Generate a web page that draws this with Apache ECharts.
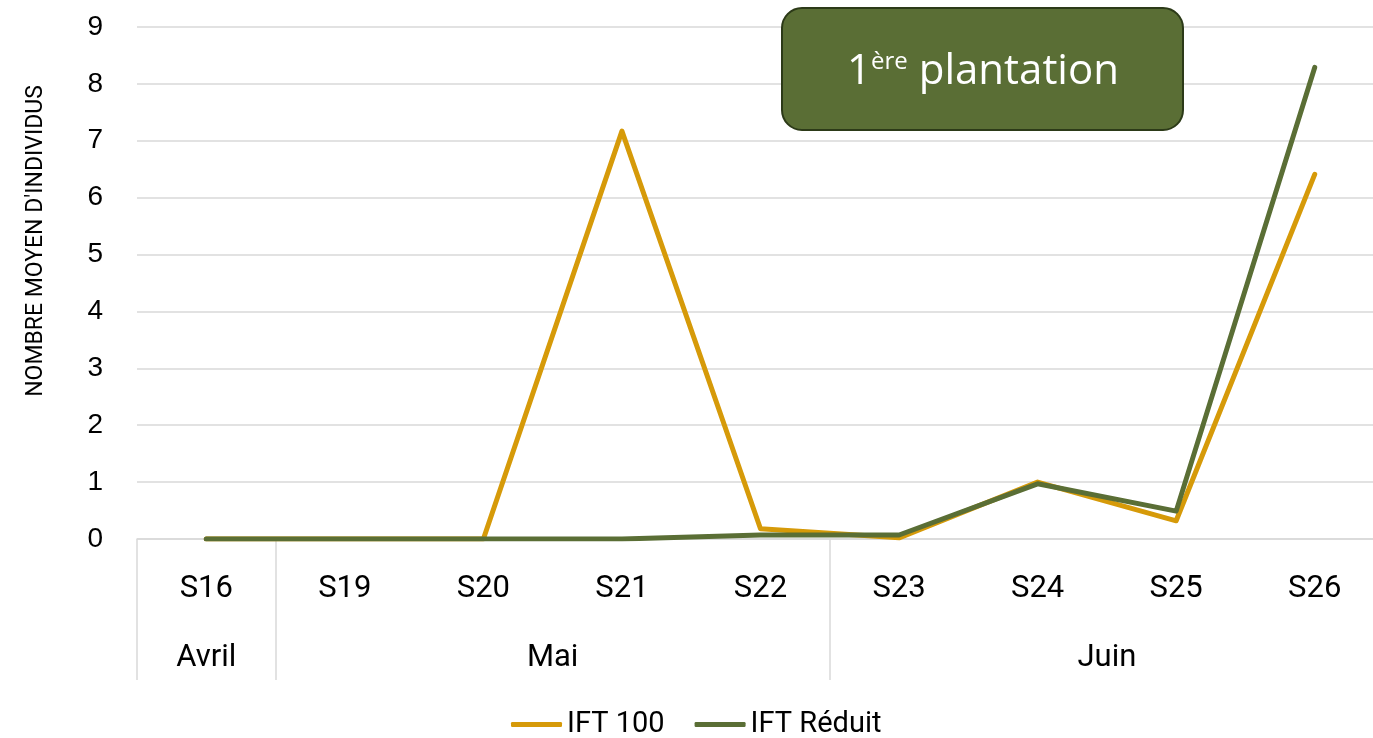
<!DOCTYPE html>
<html>
<head>
<meta charset="utf-8">
<script src="https://cdn.jsdelivr.net/npm/echarts@6/dist/echarts.min.js"></script>
<style>
  html, body { margin: 0; padding: 0; background: #fff; }
  #chart { width: 1373px; height: 738px; }
</style>
</head>
<body>
<div id="chart"></div>
<script>
// Weekly sampling (ISO week numbers) and their months
const weeks = ['S16', 'S19', 'S20', 'S21', 'S22', 'S23', 'S24', 'S25', 'S26'];
const monthNames = ['Avril', 'Mai', 'Juin'];
const monthWeekCounts = [1, 4, 4];

// Mean number of individuals per week
const ift100 = [0, 0, 0, 7.17, 0.18, 0.02, 1.0, 0.32, 6.41];
const iftReduit = [0, 0, 0, 0, 0.07, 0.07, 0.97, 0.49, 8.29];

const yTicks = { min: 0, max: 9, step: 1 };

// Month group boundaries and centres on a 0..n scale
const bounds = [0];
monthWeekCounts.forEach(c => bounds.push(bounds[bounds.length - 1] + c));
const centres = monthNames.map((_, i) => (bounds[i] + bounds[i + 1]) / 2);

const ORANGE = '#D69A09';
const GREEN = '#5A6E35';
const GRID = '#D9D9D9';

const chart = echarts.init(document.getElementById('chart'), null, { renderer: 'canvas' });

chart.setOption({
  backgroundColor: '#ffffff',
  animation: false,
  grid: { left: 137, top: 27, bottom: 199, width: 1247, containLabel: false, outerBoundsMode: 'none' },
  legend: {
    left: 506,
    bottom: -6,
    itemGap: 30,
    itemWidth: 51,
    itemHeight: 5,
    icon: 'roundRect',
    textStyle: { fontFamily: 'Roboto', fontSize: 29, color: '#000' },
    data: ['IFT 100', 'IFT Réduit']
  },
  xAxis: [
    {
      type: 'category',
      data: weeks,
      boundaryGap: true,
      axisLine: { show: true, lineStyle: { color: GRID, width: 1.5 } },
      axisTick: { show: false },
      axisLabel: { fontFamily: 'Roboto', fontSize: 31, color: '#000', margin: 35 },
      splitLine: { show: false }
    },
    {
      type: 'value',
      position: 'bottom',
      min: 0,
      max: weeks.length,
      axisLine: { show: false },
      splitLine: { show: false },
      axisTick: {
        show: true,
        customValues: bounds,
        length: 141,
        lineStyle: { color: GRID, width: 1.5 }
      },
      axisLabel: {
        customValues: centres,
        margin: 104,
        fontFamily: 'Roboto',
        fontSize: 31,
        color: '#000',
        formatter: v => {
          const i = centres.findIndex(c => Math.abs(c - v) < 1e-6);
          return i >= 0 ? monthNames[i] : '';
        }
      }
    }
  ],
  yAxis: {
    type: 'value',
    min: yTicks.min,
    max: yTicks.max,
    interval: yTicks.step,
    name: "NOMBRE MOYEN D'INDIVIDUS",
    nameLocation: 'middle',
    nameGap: 89,
    nameTextStyle: { fontFamily: 'Roboto', fontSize: 23, color: '#000', padding: [0, 0, 0, 84] },
    axisLine: { show: false },
    axisTick: { show: false },
    axisLabel: { fontFamily: 'Liberation Sans', fontSize: 28, color: '#000', margin: 34 },
    splitLine: { show: true, lineStyle: { color: GRID, width: 1.5 } }
  },
  series: [
    {
      name: 'IFT 100',
      type: 'line',
      data: ift100,
      symbol: 'none',
      color: ORANGE,
      lineStyle: { color: ORANGE, width: 5, cap: 'round', join: 'round' },
      z: 2
    },
    {
      name: 'IFT Réduit',
      type: 'line',
      data: iftReduit,
      symbol: 'none',
      color: GREEN,
      lineStyle: { color: GREEN, width: 5, cap: 'round', join: 'round' },
      z: 3
    }
  ],
  graphic: {
    elements: [
      {
        type: 'group',
        left: 781,
        top: 7,
        z: 100,
        zlevel: 1,
        children: [
          {
            type: 'rect',
            z: 100,
            zlevel: 1,
            shape: { x: 0, y: 0, width: 401, height: 122, r: 20 },
            style: { fill: '#5A6E35', stroke: '#2C3A18', lineWidth: 2 }
          },
          {
            type: 'text',
            z: 101,
            zlevel: 1,
            x: 201,
            y: 64,
            style: {
              text: '{a|1}{b|ère}{a| plantation}',
              align: 'center',
              verticalAlign: 'middle',
              rich: {
                a: { fontFamily: 'Open Sans', fontSize: 42, fill: '#fff' },
                b: { fontFamily: 'Open Sans', fontSize: 24, fill: '#fff', padding: [0, 0, 20, 0] }
              }
            }
          }
        ]
      }
    ]
  }
});
</script>
</body>
</html>
